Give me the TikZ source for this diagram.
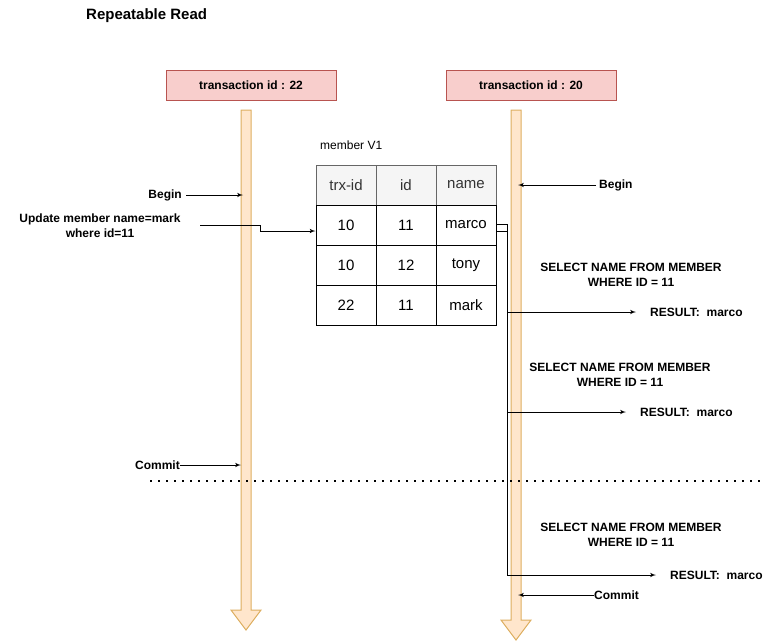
\documentclass[tikz,border=0pt]{standalone}
\usepackage{fontspec}
\setmainfont{Liberation Sans}
\usetikzlibrary{arrows}
\usetikzlibrary{positioning}
\definecolor{trxfill}{HTML}{F8CECC}
\definecolor{trxline}{HTML}{B85450}
\definecolor{lifefill}{HTML}{FFE6CC}
\definecolor{lifeline}{HTML}{DDAE60}
\definecolor{headfill}{HTML}{F5F5F5}
\definecolor{headline}{HTML}{666666}
\definecolor{headtext}{HTML}{333333}

\begin{document}
\begin{tikzpicture}[x = 1pt, y = -1pt,
    trx/.style = {draw = trxline, fill = trxfill, line width = 1pt,
        minimum width = 170pt, minimum height = 30pt,
        font = \bfseries\fontsize{12}{14}\selectfont},
    lbl/.style = {font = \bfseries\fontsize{12}{14.5}\selectfont, align = center, inner sep = 0},
    cell/.style = {draw, line width = 1pt, minimum width = 60pt, minimum height = 40pt,
        font = \fontsize{15}{17}\selectfont},
    hcell/.style = {cell, draw = headline, fill = headfill, text = headtext},
    life/.style = {draw = lifeline, fill = lifefill, line width = 1pt},
    conn/.style = {line width = 1pt, -latex'}]
    \useasboundingbox (0, 0) rectangle (777, 641);

    \node[lbl, anchor = west, font = \bfseries\fontsize{15}{17}\selectfont] (title) at (86, 16) {Repeatable Read};

    %% transactions
    \node[trx] (trxA) at (251, 85) {transaction id : 22};
    \node[trx] (trxB) at (531, 85) {transaction id : 20};

    %% lifelines
    \draw[life] (241, 110) -- (251, 110) -- (251, 610) -- (261, 610) -- (246, 630)
        -- (231, 610) -- (241, 610) -- cycle;
    \draw[life] (511, 110) -- (521, 110) -- (521, 620) -- (531, 620) -- (516, 640)
        -- (501, 620) -- (511, 620) -- cycle;

    %% table
    \node[anchor = west, font = \fontsize{12}{14}\selectfont, inner sep = 0] (ver) at (320, 145) {member V1};
    \node[hcell] (h1) at (346, 185) {trx-id};
    \node[hcell] (h2) at (406, 185) {id};
    \node[hcell] (h3) at (466, 185) {name};
    \node[cell] (r1c1) at (346, 225) {10};
    \node[cell] (r1c2) at (406, 225) {11};
    \node[cell] (r1c3) at (466, 225) {marco};
    \node[cell] (r2c1) at (346, 265) {10};
    \node[cell] (r2c2) at (406, 265) {12};
    \node[cell] (r2c3) at (466, 265) {tony};
    \node[cell] (r3c1) at (346, 305) {22};
    \node[cell] (r3c2) at (406, 305) {11};
    \node[cell] (r3c3) at (466, 305) {mark};

    %% transaction 22
    \node[lbl, anchor = east] (beginA) at (182, 195) {Begin};
    \coordinate (beginAto) at (243, 195);
    \draw[conn] ([xshift = 4pt]beginA.east) -- (beginAto);

    \node[lbl] (update) at (100, 225.5) {Update member name=mark\\where id=11};
    \coordinate (updfrom) at (200, 225);
    \draw[conn] (updfrom) -- ++(60, 0) |- ([yshift = -6pt]r1c1.west);

    \node[lbl, anchor = east] (commitA) at (180, 465) {Commit};
    \coordinate (commitAto) at (241, 465);
    \draw[conn] (commitA.east) -- (commitAto);

    %% separator
    \coordinate (sepL) at (150, 481);
    \coordinate (sepR) at (762, 481);
    \draw[line width = 1.5pt, dash pattern = on 1.5pt off 6.5pt, dash phase = 0pt] (sepL) -- (sepR);

    %% transaction 20
    \node[lbl, anchor = west] (beginB) at (599, 185) {Begin};
    \coordinate (beginBto) at (518, 185);
    \draw[conn] ([xshift = -3pt]beginB.west) -- (beginBto);

    \node[lbl] (sel1) at (631, 275) {SELECT NAME FROM MEMBER\\WHERE ID = 11};
    \node[lbl, anchor = west] (res1) at (650, 312) {RESULT:\ \ marco};
    \draw[conn] ([yshift = 1pt]r1c3.east) -- ++(11, 0) |- ([xshift = -14pt]res1.west);

    \node[lbl] (sel2) at (620, 375) {SELECT NAME FROM MEMBER\\WHERE ID = 11};
    \node[lbl, anchor = west] (res2) at (640, 412) {RESULT:\ \ marco};
    \draw[conn] ([yshift = -6pt]r1c3.east) -- ++(11, 0) |- ([xshift = -14pt]res2.west);

    \node[lbl] (sel3) at (631, 535) {SELECT NAME FROM MEMBER\\WHERE ID = 11};
    \node[lbl, anchor = west] (res3) at (670, 575) {RESULT:\ \ marco};
    \draw[conn] ([yshift = -6pt]r1c3.east) -- ++(11, 0) |- ([xshift = -14pt]res3.west);

    \node[lbl, anchor = west] (commitB) at (594, 595) {Commit};
    \coordinate (commitBto) at (518, 595);
    \draw[conn] (commitB.west) -- (commitBto);
\end{tikzpicture}
\end{document}
